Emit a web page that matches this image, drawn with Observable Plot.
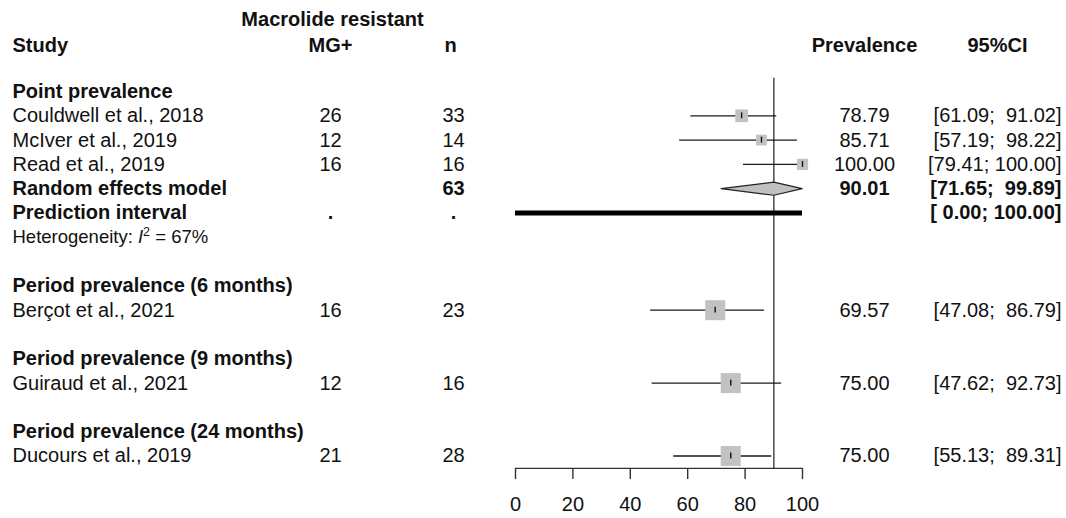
<!DOCTYPE html>
<html><head><meta charset="utf-8">
<script src="https://cdn.jsdelivr.net/npm/d3@7"></script>
<script src="https://cdn.jsdelivr.net/npm/@observablehq/plot@0.6"></script>
<style>body{margin:0;background:#fff;} svg text{white-space:pre;}</style>
</head><body><div id="chart"></div>
<script>
// ---- data ----
const groups = ["Point prevalence", "Period prevalence (6 months)", "Period prevalence (9 months)", "Period prevalence (24 months)"];
const studies = ["Couldwell et al., 2018", "McIver et al., 2019", "Read et al., 2019", "Berçot et al., 2021", "Guiraud et al., 2021", "Ducours et al., 2019"];
const studyGroup = [0, 0, 0, 1, 2, 3];
const events = [26, 12, 16, 16, 12, 21];
const totals = [33, 14, 16, 23, 16, 28];
const prevalence = [78.79, 85.71, 100.00, 69.57, 75.00, 75.00];
const lower = [61.09, 57.19, 79.41, 47.08, 47.62, 55.13];
const upper = [91.02, 98.22, 100.00, 86.79, 92.73, 89.31];
const weights = [40, 29, 31, 100, 100, 100];
const pooledGroup = 0;
const pooledN = 63;
const pooledEstimate = 90.01;
const pooledLower = 71.65;
const pooledUpper = 99.89;
const predictionLower = 0.00;
const predictionUpper = 100.00;
const heterogeneityI2 = 67;
const xTicks = [0, 20, 40, 60, 80, 100];

// ---- layout of rows ----
const fmt = v => v.toFixed(2);
const ci = (lo, hi) => "[" + fmt(lo).padStart(5) + "; " + fmt(hi).padStart(6) + "]";
const headerRows = [], studyRows = [], boldRows = [];
let row = 0, reRow = null, piRow = null, hetRow = null;
groups.forEach((g, gi) => {
  headerRows.push({row: row++, label: g});
  studies.forEach((s, i) => {
    if (studyGroup[i] !== gi) return;
    studyRows.push({row: row++, label: s, mg: String(events[i]), n: String(totals[i]),
      prev: prevalence[i], lo: lower[i], hi: upper[i], w: weights[i],
      prevText: fmt(prevalence[i]), ciText: ci(lower[i], upper[i])});
  });
  if (gi === pooledGroup) {
    reRow = row++;
    boldRows.push({row: reRow, label: "Random effects model", mg: "", n: String(pooledN), prevText: fmt(pooledEstimate), ciText: ci(pooledLower, pooledUpper)});
    piRow = row++;
    boldRows.push({row: piRow, label: "Prediction interval", mg: ".", n: ".", prevText: "", ciText: ci(predictionLower, predictionUpper)});
    hetRow = row++;
  }
  row++; // blank line
});
const lastRow = row - 2;
const axisRow = lastRow + 0.51;

const diamond = [
  {x: pooledLower, y: reRow}, {x: pooledEstimate, y: reRow - 0.27},
  {x: pooledUpper, y: reRow}, {x: pooledEstimate, y: reRow + 0.27},
  {x: pooledLower, y: reRow}
];

const FS = 20;
const col = {study: 12, mg: 330, n: 453, prev: 864, ci: 1061};
const headA = -2.95, headB = -1.89;
const headers = [
  {row: headA, text: "Macrolide resistant", dx: 332, anchor: "middle"},
  {row: headB, text: "Study", dx: col.study, anchor: "start"},
  {row: headB, text: "MG+", dx: 330, anchor: "middle"},
  {row: headB, text: "n", dx: 450, anchor: "middle"},
  {row: headB, text: "Prevalence", dx: col.prev, anchor: "middle"},
  {row: headB, text: "95%CI", dx: 997, anchor: "middle"}
];

const leftText = (data, key, dx, anchor, weight) =>
  Plot.text(data, {y: "row", text: key, frameAnchor: "left", dx, textAnchor: anchor, fontSize: FS, fontWeight: weight, fill: "#111"});

const marks = [
  // reference line at pooled estimate
  Plot.ruleX([pooledEstimate], {y1: -0.55, y2: axisRow, stroke: "#555", strokeWidth: 1.6}),
  // CIs
  Plot.ruleY(studyRows, {y: "row", x1: "lo", x2: "hi", stroke: "#1a1a1a", strokeWidth: 1.3}),
  // squares
  Plot.dot(studyRows, {x: "prev", y: "row", r: "w", symbol: "square", fill: "#c2c2c2", stroke: "none"}),
  Plot.ruleX(studyRows, {x: "prev", y1: d => d.row - 0.12, y2: d => d.row + 0.12, stroke: "#111", strokeWidth: 1.4}),
  // diamond
  Plot.line(diamond, {x: "x", y: "y", fill: "#c0c0c0", stroke: "#222", strokeWidth: 1.2}),
  // prediction interval
  Plot.ruleY([piRow], {x1: predictionLower, x2: predictionUpper, stroke: "#000", strokeWidth: 5}),
  // axis
  Plot.ruleY([axisRow], {x1: xTicks[0], x2: xTicks[xTicks.length - 1], stroke: "#333", strokeWidth: 1.4}),
  Plot.ruleX(xTicks, {x: d => d, y1: axisRow, y2: axisRow + 0.46, stroke: "#333", strokeWidth: 1.4}),
  Plot.text(xTicks, {x: d => d, y: axisRow + 1.5, text: d => String(d), fontSize: 20, fill: "#111"}),
  // headers
  ...headers.map(h => Plot.text([h], {y: "row", text: "text", frameAnchor: "left", dx: h.dx, textAnchor: h.anchor, fontSize: FS, fontWeight: "bold", fill: "#111"})),
  // group labels
  leftText(headerRows, "label", col.study, "start", "bold"),
  // study rows
  leftText(studyRows, "label", col.study, "start", "normal"),
  leftText(studyRows, "mg", col.mg, "middle", "normal"),
  leftText(studyRows, "n", col.n, "middle", "normal"),
  leftText(studyRows, "prevText", col.prev, "middle", "normal"),
  leftText(studyRows, "ciText", col.ci, "end", "normal"),
  // pooled rows
  leftText(boldRows, "label", col.study, "start", "bold"),
  leftText(boldRows, "mg", col.mg, "middle", "bold"),
  leftText(boldRows, "n", col.n, "middle", "bold"),
  leftText(boldRows, "prevText", col.prev, "middle", "bold"),
  leftText(boldRows, "ciText", col.ci, "end", "bold"),
  // heterogeneity
  Plot.text([{row: hetRow, text: "Heterogeneity: I2 = " + heterogeneityI2 + "%"}], {y: "row", text: "text", frameAnchor: "left", dx: col.study, textAnchor: "start", fontSize: 18.5, fill: "#111"})
];

const chart = Plot.plot({
  width: 1066, height: 518,
  marginTop: 0, marginRight: 0, marginBottom: 0, marginLeft: 0,
  style: {fontFamily: "'Liberation Sans', Arial, Helvetica, sans-serif", background: "#fff", overflow: "visible"},
  x: {domain: [0, 100], range: [515, 802], axis: null},
  y: {domain: [0, 15], range: [91, 455.5], axis: null},
  r: {type: "sqrt", domain: [0, 100], range: [0, 11.3]},
  marks
});
chart.setAttribute("xml:space", "preserve");
d3.select(chart).selectAll("text").each(function() {
  if (this.textContent.startsWith("Heterogeneity")) {
    this.innerHTML = 'Heterogeneity: <tspan font-style="italic">I</tspan><tspan dy="-7" font-size="12.5">2</tspan><tspan dy="7"> = ' + heterogeneityI2 + '%</tspan>';
  }
});
document.getElementById("chart").appendChild(chart);
</script></body></html>
